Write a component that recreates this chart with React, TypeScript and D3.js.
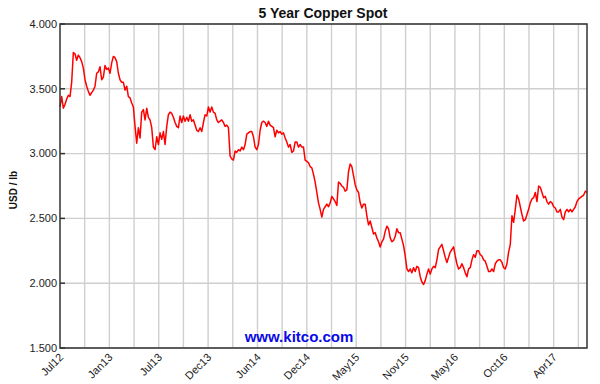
import React, { useEffect, useRef } from "react";
import * as d3 from "d3";

const width = 600;
const height = 384;
const plot = { left: 60, right: 587, top: 24, bottom: 348 };

// copper spot, USD/lb in order (evenly spaced trading days)
const spotJul12Jul13 = [
  3.36, 3.44, 3.35, 3.38, 3.42, 3.45, 3.44, 3.55, 3.78, 3.77,
  3.72, 3.76, 3.74, 3.71, 3.66, 3.57, 3.52, 3.48, 3.45, 3.47,
  3.49, 3.52, 3.62, 3.63, 3.67, 3.57, 3.59, 3.68, 3.65, 3.66,
  3.62, 3.70, 3.75, 3.74, 3.71, 3.62, 3.57, 3.55, 3.55, 3.49,
  3.52, 3.44, 3.43, 3.39, 3.36, 3.21, 3.08, 3.20, 3.12, 3.32,
  3.34, 3.26, 3.35, 3.28, 3.26, 3.20,
];
const spotJul13Apr14 = [
  3.05, 3.03, 3.13, 3.07, 3.16, 3.11, 3.17, 3.07, 3.21, 3.30,
  3.32, 3.31, 3.28, 3.24, 3.21, 3.20, 3.29, 3.24, 3.29, 3.25,
  3.28, 3.25, 3.30, 3.25, 3.26, 3.22, 3.18, 3.17, 3.20, 3.17,
  3.24, 3.30, 3.29, 3.36, 3.32, 3.36, 3.32, 3.31, 3.26, 3.24,
  3.25, 3.26, 3.24, 3.21, 3.22, 3.20, 2.98, 2.96, 2.95, 3.02,
  3.01, 3.03, 3.02, 3.05, 3.03, 3.07, 3.15,
];
const spotApr14Feb15 = [
  3.16, 3.17, 3.17, 3.13, 3.05, 3.03, 3.07, 3.18, 3.24, 3.25,
  3.24, 3.21, 3.25, 3.22, 3.21, 3.20, 3.13, 3.18, 3.16, 3.17,
  3.15, 3.16, 3.12, 3.09, 3.05, 3.07, 3.01, 3.02, 3.09, 3.09,
  3.05, 3.07, 3.05, 3.05, 2.95, 2.94, 2.93, 2.90, 2.89, 2.84,
  2.78, 2.70, 2.62, 2.57, 2.51, 2.57, 2.59, 2.61, 2.59, 2.62,
  2.67, 2.65, 2.63,
];
const spotFeb15Jan16 = [
  2.60, 2.78, 2.77, 2.75, 2.74, 2.71, 2.72, 2.86, 2.92, 2.90,
  2.83, 2.76, 2.72, 2.70, 2.62, 2.58, 2.61, 2.61, 2.52, 2.45,
  2.48, 2.43, 2.38, 2.39, 2.35, 2.32, 2.28, 2.32, 2.34, 2.40,
  2.44, 2.42, 2.35, 2.32, 2.33, 2.36, 2.42, 2.39, 2.39, 2.34,
  2.29, 2.21, 2.11, 2.09, 2.11, 2.08, 2.12, 2.09, 2.13, 2.12,
  2.05, 2.01, 1.99, 2.02, 2.07, 2.11, 2.07, 2.11,
];
const spotJan16Oct16 = [
  2.13, 2.12, 2.18, 2.26, 2.28, 2.30, 2.25, 2.20, 2.16, 2.20,
  2.24, 2.26, 2.28, 2.21, 2.15, 2.11, 2.12, 2.15, 2.12, 2.08,
  2.05, 2.11, 2.12, 2.18, 2.22, 2.20, 2.25, 2.25, 2.22, 2.21,
  2.18, 2.17, 2.13, 2.09, 2.09, 2.11, 2.09, 2.15, 2.17, 2.18,
  2.18, 2.16, 2.12, 2.11, 2.15, 2.24,
];
const spotOct16Now = [
  2.30, 2.52, 2.47, 2.57, 2.68, 2.65, 2.59, 2.53, 2.48, 2.49,
  2.53, 2.57, 2.62, 2.65, 2.66, 2.70, 2.63, 2.75, 2.74, 2.70,
  2.66, 2.67, 2.63, 2.61, 2.63, 2.62, 2.59, 2.58, 2.55, 2.55,
  2.57, 2.51, 2.49, 2.55, 2.57, 2.55, 2.57, 2.55, 2.57, 2.59,
  2.63, 2.65, 2.66, 2.67, 2.68, 2.71, 2.70,
];

const spot = [
  ...spotJul12Jul13,
  ...spotJul13Apr14,
  ...spotApr14Feb15,
  ...spotFeb15Jan16,
  ...spotJan16Oct16,
  ...spotOct16Now,
];

const yTicks = [1.5, 2.0, 2.5, 3.0, 3.5, 4.0];
const xLabels = ["Jul12", "Jan13", "Jul13", "Dec13", "Jun14", "Dec14", "May15", "Nov15", "May16", "Oct16", "Apr17"];
const tradingDays = 1281;
const gridEvery = 60;
const labelEvery = 120;

const font = "Arial, 'Liberation Sans', sans-serif";

export default function App() {
  const ref = useRef<SVGSVGElement>(null);

  useEffect(() => {
    const svg = d3.select(ref.current);
    svg.selectAll("*").remove();

    const x = d3.scaleLinear().domain([0, tradingDays]).range([plot.left, plot.right]);
    const y = d3.scaleLinear().domain([1.5, 4]).range([plot.bottom, plot.top]);
    const step = tradingDays / (spot.length - 1);

    svg.append("rect").attr("width", width).attr("height", height).attr("fill", "#fff");

    // grid
    svg
      .append("g")
      .selectAll("line")
      .data(d3.range(gridEvery, tradingDays, gridEvery))
      .join("line")
      .attr("x1", (d) => x(d))
      .attr("x2", (d) => x(d))
      .attr("y1", plot.top)
      .attr("y2", plot.bottom)
      .attr("stroke", "#cfcfcf")
      .attr("stroke-width", 1.4);

    svg
      .append("g")
      .selectAll("line")
      .data(yTicks)
      .join("line")
      .attr("x1", plot.left)
      .attr("x2", plot.right)
      .attr("y1", (d) => y(d))
      .attr("y2", (d) => y(d))
      .attr("stroke", "#cfcfcf")
      .attr("stroke-width", 1.4);

    // price line
    const line = d3
      .line<number>()
      .x((d, i) => x(i * step))
      .y((d) => y(d));

    svg
      .append("path")
      .datum(spot)
      .attr("d", line)
      .attr("fill", "none")
      .attr("stroke", "#ff0000")
      .attr("stroke-width", 1.5)
      .attr("stroke-linejoin", "round");

    // frame
    svg
      .append("rect")
      .attr("x", plot.left)
      .attr("y", plot.top)
      .attr("width", plot.right - plot.left)
      .attr("height", plot.bottom - plot.top)
      .attr("fill", "none")
      .attr("stroke", "#333")
      .attr("stroke-width", 1.5);

    // y ticks + labels
    svg
      .append("g")
      .selectAll("line")
      .data(yTicks)
      .join("line")
      .attr("x1", plot.left)
      .attr("x2", plot.left + 5)
      .attr("y1", (d) => y(d))
      .attr("y2", (d) => y(d))
      .attr("stroke", "#333")
      .attr("stroke-width", 1.5);

    svg
      .append("g")
      .selectAll("text")
      .data(yTicks)
      .join("text")
      .attr("x", plot.left - 3)
      .attr("y", (d) => y(d))
      .attr("dy", "0.35em")
      .attr("text-anchor", "end")
      .attr("font-family", font)
      .attr("font-size", 11)
      .attr("fill", "#222")
      .text((d) => d3.format(".3f")(d));

    // x labels
    svg
      .append("g")
      .selectAll("text")
      .data(xLabels)
      .join("text")
      .attr("transform", (d, i) => `translate(${x(i * labelEvery) + 4},${plot.bottom + 10}) rotate(-45)`)
      .attr("text-anchor", "end")
      .attr("font-family", font)
      .attr("font-size", 11)
      .attr("fill", "#222")
      .text((d) => d);

    // titles
    svg
      .append("text")
      .attr("x", 323)
      .attr("y", 18)
      .attr("text-anchor", "middle")
      .attr("font-family", font)
      .attr("font-size", 14)
      .attr("font-weight", "bold")
      .attr("fill", "#111")
      .text("5 Year Copper Spot");

    svg
      .append("text")
      .attr("transform", "translate(17,190) rotate(-90)")
      .attr("text-anchor", "middle")
      .attr("font-family", font)
      .attr("font-size", 10)
      .attr("font-weight", "bold")
      .attr("fill", "#111")
      .text("USD / lb");

    svg
      .append("text")
      .attr("x", 299)
      .attr("y", 342)
      .attr("text-anchor", "middle")
      .attr("font-family", font)
      .attr("font-size", 15)
      .attr("font-weight", "bold")
      .attr("fill", "#0a0ae6")
      .text("www.kitco.com");
  }, []);

  return (
    <svg
      ref={ref}
      width={width}
      height={height}
      style={{ position: "absolute", left: 0, top: 0, display: "block" }}
    />
  );
}
